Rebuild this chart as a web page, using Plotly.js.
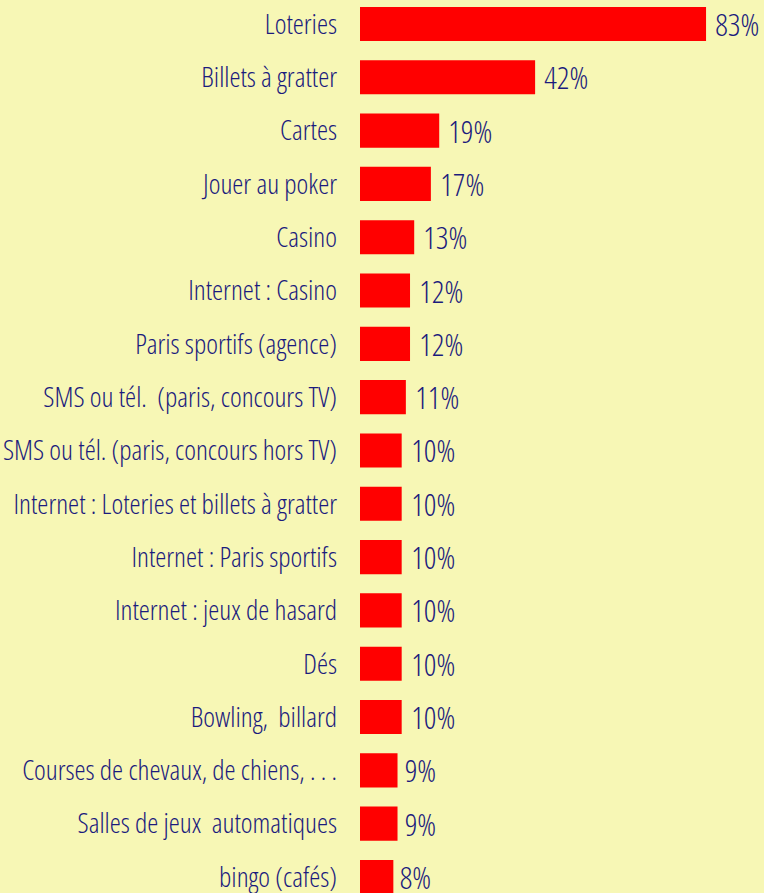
<!DOCTYPE html>
<html>
<head>
<meta charset="utf-8">
<script src="https://cdn.plot.ly/plotly-3.0.1.min.js"></script>
<style>
html,body{margin:0;padding:0;background:#F7F7B5;}
#chart{width:764px;height:893px;}
#chart text{font-stretch:75% !important;}
</style>
</head>
<body>
<div id="chart"></div>
<script>
const categories = [
  "Loteries",
  "Billets à gratter",
  "Cartes",
  "Jouer au poker",
  "Casino",
  "Internet : Casino",
  "Paris sportifs (agence)",
  "SMS ou tél.  (paris, concours TV)",
  "SMS ou tél. (paris, concours hors TV)",
  "Internet : Loteries et billets à gratter",
  "Internet : Paris sportifs",
  "Internet : jeux de hasard",
  "Dés",
  "Bowling,  billard",
  "Courses de chevaux, de chiens, . . .",
  "Salles de jeux  automatiques",
  "bingo (cafés)"
];
const values = [83, 42, 19, 17, 13, 12, 12, 11, 10, 10, 10, 10, 10, 10, 9, 9, 8];
const valueLabels = values.map(v => v + "%");

const FONT = "'Open Sans', sans-serif";
const NAVY = "#1b1b7d";

const trace = {
  type: "bar",
  orientation: "h",
  y: categories.map((c, i) => i),
  x: values,
  marker: {color: "#FF0000", line: {width: 0}},
  hoverinfo: "none"
};

const annotations = values.map((v, i) => ({
  x: v, y: i, xref: "x", yref: "y",
  text: valueLabels[i], showarrow: false,
  xanchor: "left", yanchor: "middle", xshift: -1,
  font: {family: FONT, size: 31, color: NAVY, weight: 300}
}));

const layout = {
  width: 764, height: 893,
  margin: {l: 360, r: 0, t: 0, b: 0, pad: 0},
  paper_bgcolor: "#F7F7B5",
  plot_bgcolor: "#F7F7B5",
  bargap: 0.36,
  showlegend: false,
  xaxis: {range: [0, 96.9], visible: false, fixedrange: true},
  yaxis: {
    range: [16.301, -0.45],
    tickmode: "array",
    tickvals: categories.map((c, i) => i),
    ticktext: categories,
    ticks: "",
    ticklabelstandoff: 22,
    ticklabeloverflow: "allow",
    showgrid: false, zeroline: false, showline: false,
    tickfont: {family: FONT, size: 28, color: NAVY, weight: 300}
  },
  annotations: annotations
};

Plotly.newPlot("chart", [trace], layout, {displayModeBar: false, staticPlot: true});
</script>
</body>
</html>
